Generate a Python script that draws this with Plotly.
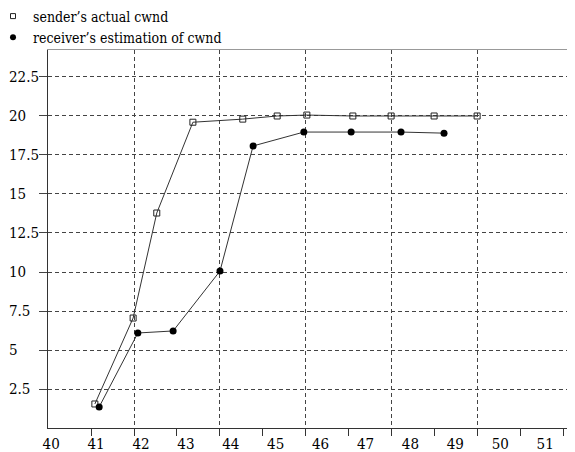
import plotly.graph_objects as go

# ---- data ----
sender_x = [41.09, 41.98, 42.53, 43.37, 44.53, 45.33, 46.02, 47.09, 47.98, 48.98, 49.98]
sender_y = [1.54, 7.05, 13.78, 19.6, 19.8, 20.0, 20.06, 20.0, 20.0, 20.0, 20.0]
receiver_x = [41.19, 42.09, 42.91, 44.0, 44.77, 45.95, 47.05, 48.21, 49.21]
receiver_y = [1.35, 6.09, 6.22, 10.06, 18.08, 18.97, 18.97, 18.97, 18.9]

sender_name = "sender\u2019s actual cwnd"
receiver_name = "receiver\u2019s estimation of cwnd"

y_tickvals = [2.5, 5, 7.5, 10, 12.5, 15, 17.5, 20, 22.5]
y_ticktext = ["2.5", "5", "7.5", "10", "12.5", "15", "17.5", "20", "22.5"]
x_grid_vals = [42, 44, 46, 48, 50]
x_minor_vals = [41, 43, 45, 47, 49, 51, 52]
x_label_vals = [40, 41, 42, 43, 44, 45, 46, 47, 48, 49, 50, 51]
x_label_text = [str(v) for v in x_label_vals]

FONT = "DejaVu Serif Condensed"
LINE = "#333333"
GRID = "#444444"
# the page body adds an 8px offset, so the figure is 8px smaller than the window
W, H = 567, 444
L_PX, R_PX, T_PX, B_PX = 40, 565, 42, 420
x_dom = [L_PX / W, R_PX / W]
y_dom = [(H - B_PX) / H, (H - T_PX) / H]
x_range = [40, 52.21]
y_range = [0, 24.23]

fig = go.Figure()

fig.add_trace(go.Scatter(
    x=sender_x, y=sender_y, mode="lines+markers", showlegend=False,
    line=dict(color=LINE, width=1),
    marker=dict(symbol="square-open", size=6, color="#222222", line=dict(width=1)),
))
fig.add_trace(go.Scatter(
    x=receiver_x, y=receiver_y, mode="lines+markers", showlegend=False,
    line=dict(color=LINE, width=1),
    marker=dict(symbol="circle", size=7, color="#000000"),
))
# legend entries (markers only, as in the reference)
fig.add_trace(go.Scatter(
    x=[None], y=[None], mode="markers", name=sender_name,
    marker=dict(symbol="square-open", size=5, color="#222222", line=dict(width=1)),
))
fig.add_trace(go.Scatter(
    x=[None], y=[None], mode="markers", name=receiver_name,
    marker=dict(symbol="circle", size=6, color="#000000"),
))
# helper traces so the label/frame axes get drawn
for xa, ya in (("x2", "y"), ("x3", "y"), ("x", "y2")):
    fig.add_trace(go.Scatter(x=[None], y=[None], xaxis=xa, yaxis=ya,
                             showlegend=False, hoverinfo="skip", mode="markers"))

fig.update_layout(
    template="none",
    width=W, height=H, autosize=False,
    margin=dict(l=0, r=0, t=0, b=0, autoexpand=False),
    paper_bgcolor="white", plot_bgcolor="white",
    font=dict(family=FONT, size=15, color="black"),
    legend=dict(x=0, y=1 + 7.5 / H, xanchor="left", yanchor="top",
                indentation=-15, bgcolor="rgba(0,0,0,0)",
                font=dict(family=FONT, size=14), tracegroupgap=0),
    xaxis=dict(
        domain=x_dom, range=x_range, tickmode="array", tickvals=x_grid_vals,
        showticklabels=False, ticks="outside", ticklen=7, tickcolor=LINE,
        showgrid=True, gridcolor=GRID, griddash="4px,3px", gridwidth=1,
        showline=True, linecolor=LINE, linewidth=1, zeroline=False,
        minor=dict(tickvals=x_minor_vals, ticks="outside", ticklen=7,
                   tickcolor=LINE, showgrid=False),
        automargin=False,
    ),
    yaxis=dict(
        domain=y_dom, range=y_range, tickmode="array", tickvals=y_tickvals,
        showticklabels=False, ticks="outside", ticklen=8, tickcolor=GRID,
        showgrid=True, gridcolor=GRID, griddash="4px,3px", gridwidth=1,
        showline=True, linecolor=LINE, linewidth=1, zeroline=False,
        automargin=False,
    ),
    # tick labels of the x axis (they drift slightly right of the ticks in the reference)
    xaxis2=dict(
        overlaying="x", anchor="y", side="bottom", domain=x_dom,
        range=[39.93, 51.62], tickmode="array", tickvals=x_label_vals,
        ticktext=x_label_text, ticks="outside", ticklen=2,
        tickcolor="rgba(0,0,0,0)", showgrid=False, showline=False,
        zeroline=False, automargin=False,
        tickfont=dict(family=FONT, size=15, color="black"),
    ),
    # top frame line
    xaxis3=dict(
        overlaying="x", anchor="y", side="top", domain=x_dom, range=x_range,
        showticklabels=False, ticks="", showgrid=False, zeroline=False,
        showline=True, linecolor="#999999", linewidth=1, automargin=False,
    ),
    # left-aligned y tick labels
    yaxis2=dict(
        overlaying="y", anchor="free", position=0.0, side="right",
        range=y_range, tickmode="array", tickvals=y_tickvals, ticktext=y_ticktext,
        ticks="", showgrid=False, showline=False, zeroline=False,
        automargin=False, tickfont=dict(family=FONT, size=15, color="black"),
    ),
)

fig.write_html("out.html")
